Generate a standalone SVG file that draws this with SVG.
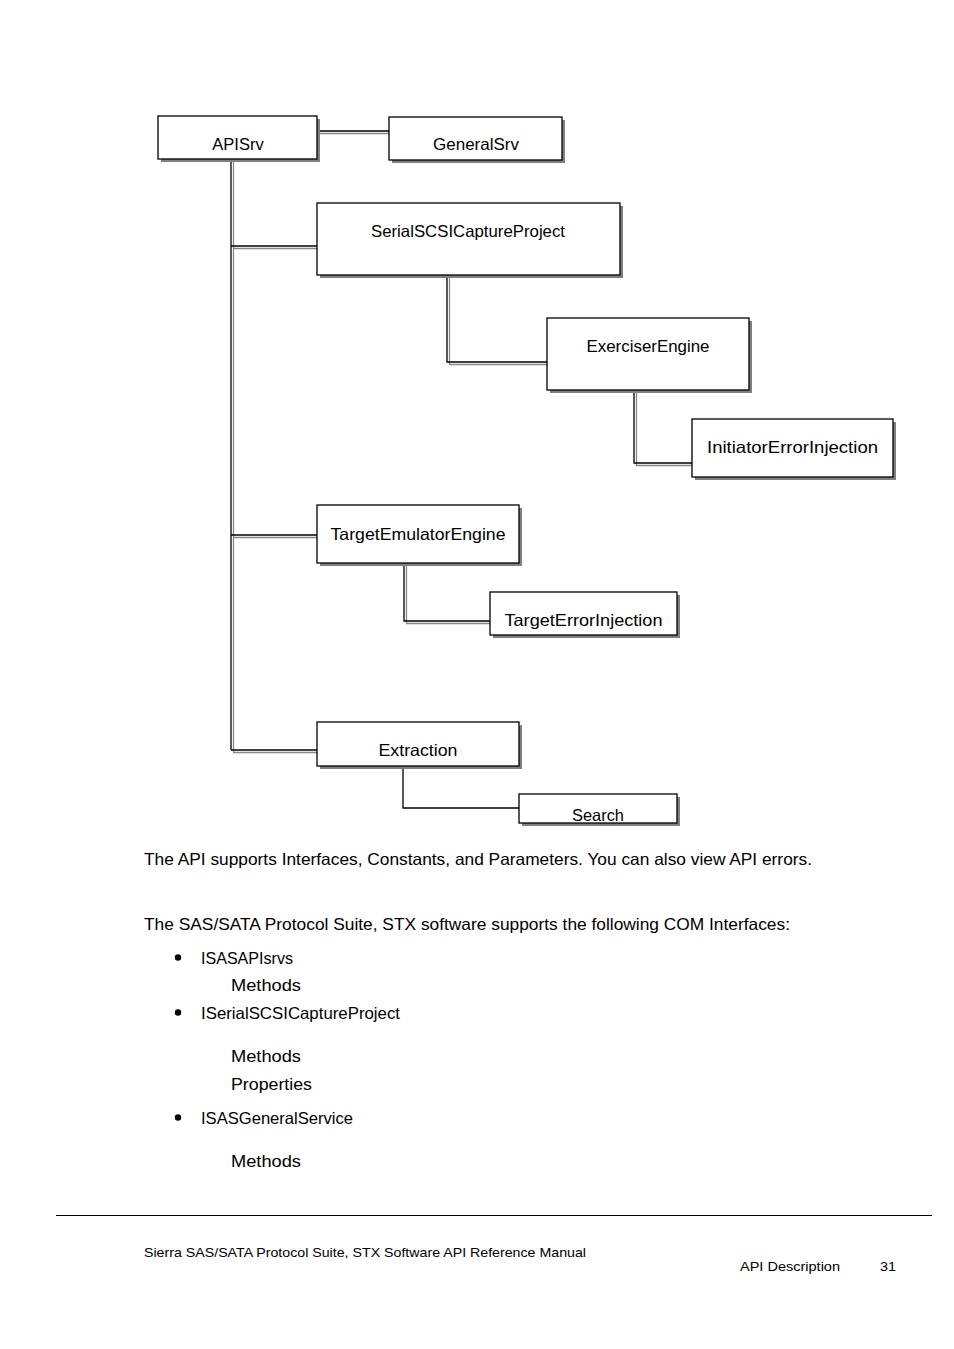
<svg xmlns="http://www.w3.org/2000/svg" width="954" height="1349" viewBox="0 0 954 1349">
<style>
.box{fill:#fff;stroke:#000;stroke-width:1.3}
.sh{fill:#808080}
.t{font-family:"Liberation Sans","Open Sans",Arial,sans-serif;font-size:16.5px;fill:#000}
.b{font-family:"Liberation Sans","Open Sans",Arial,sans-serif;font-size:16.5px;fill:#000}
.f{font-family:"Liberation Sans","Open Sans",Arial,sans-serif;font-size:13.5px;fill:#000}
.k{stroke:#000;stroke-width:1.3;fill:none}
.g{stroke:#888;stroke-width:1.3;fill:none}
</style>
<defs>
<clipPath id="clipSearch"><rect x="519" y="794" width="158" height="28.5"/></clipPath>
</defs>
<rect width="954" height="1349" fill="#fff"/>
<g id="connectors">
<line class="g" x1="317" y1="133.5" x2="393" y2="133.5"/>
<line class="k" x1="317" y1="131" x2="389" y2="131" stroke-width="2"/>
<line class="g" x1="233.5" y1="159" x2="233.5" y2="752"/>
<line class="k" x1="231" y1="159" x2="231" y2="750"/>
<line class="g" x1="233" y1="248.5" x2="321" y2="248.5"/>
<line class="k" x1="231" y1="246" x2="317" y2="246"/>
<line class="g" x1="233" y1="537.5" x2="321" y2="537.5"/>
<line class="k" x1="231" y1="535" x2="317" y2="535"/>
<line class="g" x1="233" y1="752.5" x2="321" y2="752.5"/>
<line class="k" x1="231" y1="750" x2="317" y2="750" stroke-width="2.2"/>
<polyline class="g" points="449.5,275 449.5,364.5 551,364.5"/>
<polyline class="k" points="447,275 447,362 547,362"/>
<polyline class="g" points="636.5,390 636.5,465.5 696,465.5"/>
<polyline class="k" points="634,390 634,463 692,463"/>
<polyline class="g" points="406.5,563 406.5,623.5 494,623.5"/>
<polyline class="k" points="404,563 404,621 490,621"/>
<polyline class="k" points="403,766 403,808 519,808"/>
</g>
<g id="APISrv">
<rect class="sh" x="161" y="119" width="159" height="43"/>
<rect class="box" x="158" y="116" width="159" height="43"/>
<text class="t" x="238" y="150" text-anchor="middle">APISrv</text>
</g>
<g id="GeneralSrv">
<rect class="sh" x="392" y="120" width="173" height="43"/>
<rect class="box" x="389" y="117" width="173" height="43"/>
<text class="t" x="476" y="150" text-anchor="middle" textLength="86" lengthAdjust="spacingAndGlyphs">GeneralSrv</text>
</g>
<g id="SerialSCSICaptureProject">
<rect class="sh" x="320" y="206" width="303" height="72"/>
<rect class="box" x="317" y="203" width="303" height="72"/>
<text class="t" x="468" y="237" text-anchor="middle" textLength="194" lengthAdjust="spacingAndGlyphs">SerialSCSICaptureProject</text>
</g>
<g id="ExerciserEngine">
<rect class="sh" x="550" y="321" width="202" height="72"/>
<rect class="box" x="547" y="318" width="202" height="72"/>
<text class="t" x="648" y="352" text-anchor="middle" textLength="123" lengthAdjust="spacingAndGlyphs">ExerciserEngine</text>
</g>
<g id="InitiatorErrorInjection">
<rect class="sh" x="695" y="422" width="201" height="58"/>
<rect class="box" x="692" y="419" width="201" height="58"/>
<text class="t" x="792.5" y="453" text-anchor="middle" textLength="171" lengthAdjust="spacingAndGlyphs">InitiatorErrorInjection</text>
</g>
<g id="TargetEmulatorEngine">
<rect class="sh" x="320" y="508" width="202" height="58"/>
<rect class="box" x="317" y="505" width="202" height="58"/>
<text class="t" x="418" y="540" text-anchor="middle" textLength="175" lengthAdjust="spacingAndGlyphs">TargetEmulatorEngine</text>
</g>
<g id="TargetErrorInjection">
<rect class="sh" x="493" y="595" width="187" height="43"/>
<rect class="box" x="490" y="592" width="187" height="43"/>
<text class="t" x="583.5" y="626" text-anchor="middle" textLength="158" lengthAdjust="spacingAndGlyphs">TargetErrorInjection</text>
</g>
<g id="Extraction">
<rect class="sh" x="320" y="725" width="202" height="44"/>
<rect class="box" x="317" y="722" width="202" height="44"/>
<text class="t" x="418" y="756" text-anchor="middle" textLength="79" lengthAdjust="spacingAndGlyphs">Extraction</text>
</g>
<g id="Search">
<rect class="sh" x="522" y="797" width="158" height="29"/>
<rect class="box" x="519" y="794" width="158" height="29"/>
<text class="t" x="598" y="821" text-anchor="middle" textLength="52" lengthAdjust="spacingAndGlyphs" clip-path="url(#clipSearch)">Search</text>
</g>
<g id="body">
<text class="b" x="144" y="865" textLength="668" lengthAdjust="spacingAndGlyphs">The API supports Interfaces, Constants, and Parameters. You can also view API errors.</text>
<text class="b" x="144" y="930" textLength="646" lengthAdjust="spacingAndGlyphs">The SAS/SATA Protocol Suite, STX software supports the following COM Interfaces:</text>
<circle cx="178" cy="957.5" r="3.2" fill="#000"/>
<text class="b" x="201" y="964" textLength="92" lengthAdjust="spacingAndGlyphs">ISASAPIsrvs</text>
<text class="b" x="231" y="991" textLength="70" lengthAdjust="spacingAndGlyphs">Methods</text>
<circle cx="178" cy="1012.5" r="3.2" fill="#000"/>
<text class="b" x="201" y="1019" textLength="199" lengthAdjust="spacingAndGlyphs">ISerialSCSICaptureProject</text>
<text class="b" x="231" y="1062" textLength="70" lengthAdjust="spacingAndGlyphs">Methods</text>
<text class="b" x="231" y="1090" textLength="81" lengthAdjust="spacingAndGlyphs">Properties</text>
<circle cx="178" cy="1117.5" r="3.2" fill="#000"/>
<text class="b" x="201" y="1124" textLength="152" lengthAdjust="spacingAndGlyphs">ISASGeneralService</text>
<text class="b" x="231" y="1167" textLength="70" lengthAdjust="spacingAndGlyphs">Methods</text>
</g>
<g id="footer">
<line x1="56" y1="1215.5" x2="932" y2="1215.5" stroke="#000" stroke-width="1.2"/>
<text class="f" x="144" y="1257" textLength="442" lengthAdjust="spacingAndGlyphs">Sierra SAS/SATA Protocol Suite, STX Software API Reference Manual</text>
<text class="f" x="740" y="1271" textLength="100" lengthAdjust="spacingAndGlyphs">API Description</text>
<text class="f" x="880" y="1271" textLength="16" lengthAdjust="spacingAndGlyphs">31</text>
</g>
</svg>
